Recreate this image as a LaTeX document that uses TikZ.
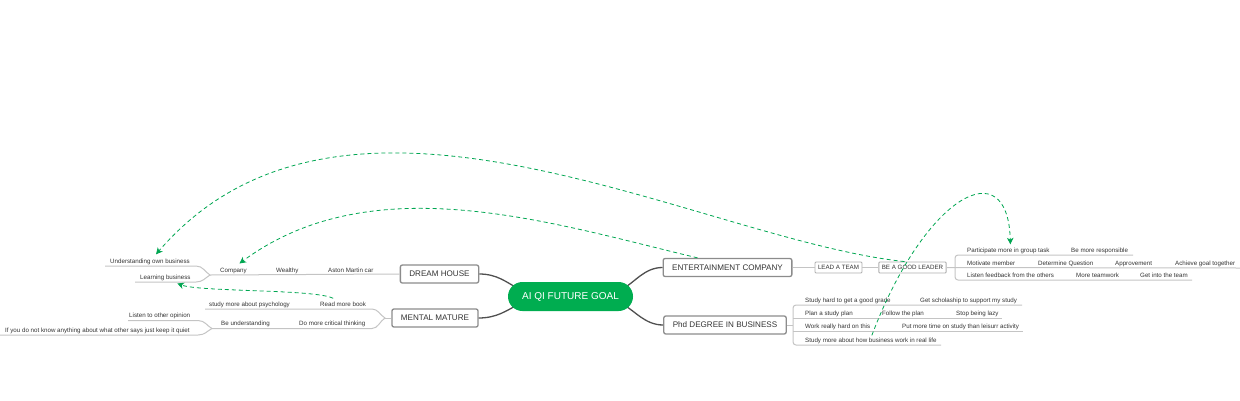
\documentclass[tikz,border=0pt]{standalone}
\usepackage{fontspec}
\setmainfont{Liberation Sans}
\usetikzlibrary{calc,arrows.meta}
\definecolor{goalgreen}{HTML}{00AD50}
\definecolor{linkgreen}{HTML}{00A651}
\definecolor{trunkgray}{HTML}{505050}
\definecolor{boxgray}{HTML}{8C8C8C}
\definecolor{rowgray}{HTML}{C4C4C4}
\definecolor{textgray}{HTML}{333333}

\tikzset{
  goalbox/.style={fill=goalgreen, text=white, rounded corners=14.5pt, minimum width=125pt, minimum height=29pt, inner sep=0pt, font=\fontsize{10}{12}\selectfont},
  topic/.style={draw=boxgray, line width=1.3pt, fill=white, rounded corners=2pt, minimum height=18pt, inner xsep=9pt, inner ysep=0pt, text=textgray, font=\fontsize{8.1}{10}\selectfont},
  subtopic/.style={draw=boxgray!70, line width=0.9pt, fill=white, rounded corners=1pt, minimum height=11pt, inner xsep=3pt, inner ysep=0pt, text=textgray, font=\fontsize{6.2}{7}\selectfont},
  leaf/.style={anchor=base west, inner sep=0pt, text=textgray, font=\fontsize{6.2}{7}\selectfont},
  trunk/.style={draw=trunkgray, line width=1.3pt},
  row/.style={draw=rowgray, line width=1pt},
  link/.style={draw=linkgreen, line width=0.8pt, dash pattern=on 4pt off 3pt, -{Stealth[length=6.5pt,width=6.5pt,inset=1.8pt]}}
}

\begin{document}
\begin{tikzpicture}[x=1pt, y=-1pt]
  \useasboundingbox (0,0) rectangle (1240,400);

  % Main topics round the goal
  \coordinate (goalc) at (570.5, 296.5);
  \node[topic] (dream) at (439.5, 274) {DREAM HOUSE};
  \node[topic] (mental) at (435, 318) {MENTAL MATURE};
  \node[topic] (ent) at (727.5, 267.5) {ENTERTAINMENT COMPANY};
  \node[topic] (phd) at (725, 325) {Phd DEGREE IN BUSINESS};
  \draw[trunk] (dream.east) .. controls +(18,0) and +(-10,-5) .. ($(goalc)+(-54,-9)$);
  \draw[trunk] (mental.east) .. controls +(18,0) and +(-10,5) .. ($(goalc)+(-54,9)$);
  \draw[trunk] (ent.west) .. controls +(-18,0) and +(10,-5) .. ($(goalc)+(54,-9)$);
  \draw[trunk] (phd.west) .. controls +(-18,0) and +(10,5) .. ($(goalc)+(54,9)$);
  \node[goalbox] (goal) at (goalc) {AI QI FUTURE GOAL};

  % Dream house branch
  \coordinate (dreamfork) at (210, 275);
  \draw[row] (dream.west) -- (dreamfork);
  \draw[row] (105,266) -- (196,266) .. controls (203,266) and (205,272) .. (dreamfork)
    .. controls (205,278) and (203,282) .. (196,282) -- (135,282);
  \node[leaf] (company) at (220, 272) {Company};
  \node[leaf] (wealthy) at (276, 272) {Wealthy};
  \node[leaf] (aston) at (328, 272) {Aston Martin car};
  \node[leaf] (ownbiz) at (110, 263) {Understanding own business};
  \node[leaf] (learnbiz) at (140, 279) {Learning business};

  % Mental mature branch
  \coordinate (mentalfork) at (385, 318);
  \coordinate (quietfork) at (212, 328.5);
  \draw[row] (mental.west) -- (mentalfork);
  \draw[row] (205,309) -- (372,309) .. controls (378,309) and (380,315) .. (mentalfork)
    .. controls (380,321) and (378,328.5) .. (372,328.5) -- (quietfork);
  \draw[row] (128,320.5) -- (198,320.5) .. controls (205,320.5) and (207,326) .. (quietfork)
    .. controls (207,331) and (205,335) .. (198,335) -- (0,335);
  \node[leaf] (psych) at (209, 306) {study more about psychology};
  \node[leaf] (readbook) at (320, 306) {Read more book};
  \node[leaf] (beund) at (221, 325.5) {Be understanding};
  \node[leaf] (critical) at (299, 325.5) {Do more critical thinking};
  \node[leaf] (listen) at (129, 317.5) {Listen to other opinion};
  \node[leaf] (quiet) at (5, 332) {If you do not know anything about what other says just keep it quiet};

  % Entertainment company branch
  \node[subtopic] (lead) at (838.5, 267.5) {LEAD A TEAM};
  \node[subtopic] (leader) at (912.5, 267.5) {BE A GOOD LEADER};
  \draw[row] (ent.east) -- (lead.west);
  \draw[row] (lead.east) -- (leader.west);
  \draw[row] (leader.east) -- (1240,268);
  \draw[row, rounded corners=3pt] (1133,255) -- (955,255) -- (955,280) -- (1192,280);
  \node[leaf] (participate) at (967, 252) {Participate more in group task};
  \node[leaf] (responsible) at (1071, 252) {Be more responsible};
  \node[leaf] (motivate) at (967, 265) {Motivate member};
  \node[leaf] (determine) at (1038, 265) {Determine Question};
  \node[leaf] (approve) at (1115, 265) {Approvement};
  \node[leaf] (achieve) at (1175, 265) {Achieve goal together};
  \node[leaf] (feedback) at (967, 277) {Listen feedback from the others};
  \node[leaf] (teamwork) at (1076, 277) {More teamwork};
  \node[leaf] (getinto) at (1140, 277) {Get into the team};

  % Phd branch
  \coordinate (phdfork) at (793, 325);
  \draw[row] (phd.east) -- (phdfork);
  \draw[row, rounded corners=3pt] (1022,305) -- (793,305) -- (793,345) -- (941,345);
  \draw[row] (793,318) -- (1002,318);
  \draw[row] (793,331) -- (1023,331);
  \node[leaf] (studyhard) at (805, 302) {Study hard to get a good grade};
  \node[leaf] (scholar) at (920, 302) {Get scholaship to support my study};
  \node[leaf] (plan) at (805, 315) {Plan a study plan};
  \node[leaf] (follow) at (882, 315) {Follow the plan};
  \node[leaf] (lazy) at (956, 315) {Stop being lazy};
  \node[leaf] (workhard) at (805, 328) {Work really hard on this};
  \node[leaf] (moretime) at (902, 328) {Put more time on study than leisurr activity};
  \node[leaf] (realbiz) at (805, 342) {Study more about how business work in real life};

  % Relationship links
  \draw[link] ($(leader.north)+(-8,0)$) .. controls (700,240) and (345,35) .. ($(ownbiz.north)+(6,-4)$);
  \draw[link] ($(ent.north)+(-30,0)$) .. controls (551,223) and (373,165) .. ($(company.north)+(6,-4)$);
  \draw[link] ($(realbiz.north)+(1,-2)$) .. controls (925,195) and (1008,150) .. ($(participate.north)+(2,-3)$);
  \draw[link] ($(readbook.north)+(-10,-3)$) .. controls (315,289) and (200,292) .. ($(learnbiz.south)+(12,3)$);
\end{tikzpicture}
\end{document}
